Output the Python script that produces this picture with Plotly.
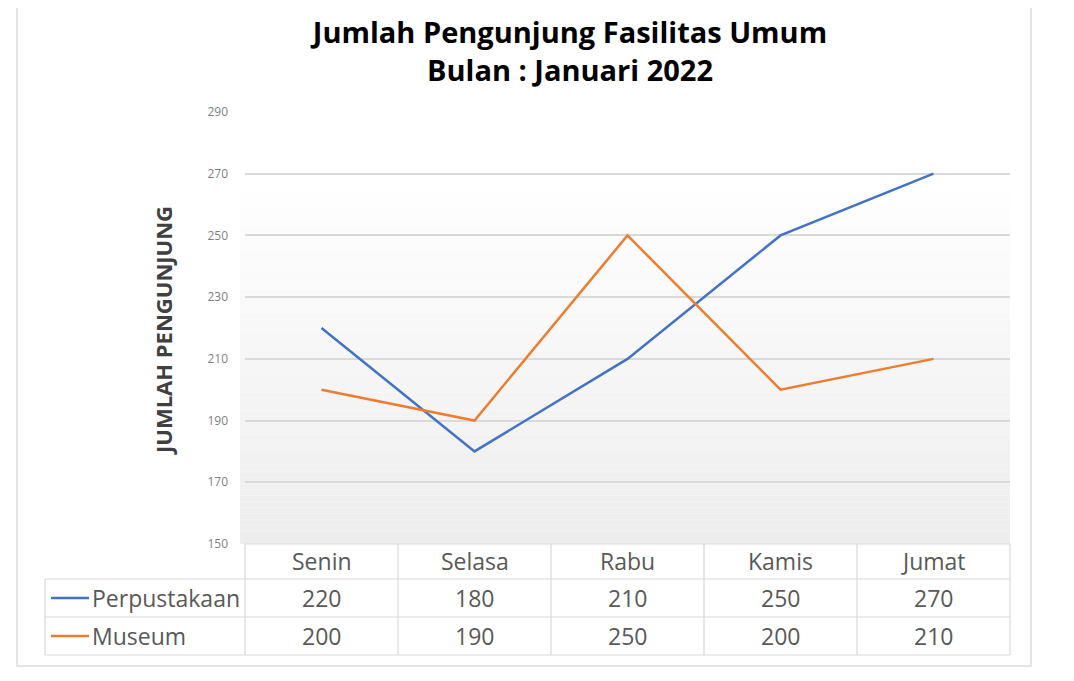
import plotly.graph_objects as go

categories = ["Senin", "Selasa", "Rabu", "Kamis", "Jumat"]
perpustakaan = [220, 180, 210, 250, 270]
museum = [200, 190, 250, 200, 210]
series_names = ["Perpustakaan", "Museum"]
y_ticks = [150, 170, 190, 210, 230, 250, 270, 290]

BLUE = "#4472C4"
ORANGE = "#ED7D31"
FONT = "Open Sans, sans-serif"

OFF = 8  # page body margin
W, H = 1074 - 2 * OFF, 681 - 2 * OFF
L, R, T, B = 245 - OFF, 1010 - OFF, 112 - OFF, 544 - OFF


def px(p):
    return (p - OFF - L) / (R - L)


def py(p):
    return (B - (p - OFF)) / (B - T)


fig = go.Figure()
fig.add_trace(go.Scatter(x=categories, y=perpustakaan, mode="lines", name=series_names[0],
                         line=dict(color=BLUE, width=2.5)))
fig.add_trace(go.Scatter(x=categories, y=museum, mode="lines", name=series_names[1],
                         line=dict(color=ORANGE, width=2.5)))

shapes = []
# background gradient in plot area
n = 60
g0, g1 = 180, 544
for i in range(n):
    y0 = g0 + (g1 - g0) * i / n
    y1 = g0 + (g1 - g0) * (i + 1) / n
    t = (i + 0.5) / n
    c = int(round(255 - (255 - 237) * t))
    shapes.append(dict(type="rect", xref="paper", yref="paper", x0=px(240), x1=px(1010),
                       y0=py(y1), y1=py(y0), fillcolor=f"rgb({c},{c},{c})",
                       line=dict(width=0), layer="below"))

# outer frame
shapes.append(dict(type="rect", xref="paper", yref="paper", x0=px(17), x1=px(1031),
                   y0=py(666), y1=py(-5), line=dict(color="#dcdcdc", width=1.5),
                   fillcolor="rgba(0,0,0,0)", layer="below"))

# data table lines
tcol = "#d9d9d9"
row_y = [544, 579, 617, 655]
col_x = [245 + 153 * i for i in range(6)]
shapes.append(dict(type="line", xref="paper", yref="paper", x0=px(245), x1=px(1010),
                   y0=py(544), y1=py(544), line=dict(color=tcol, width=1.2)))
for yy in row_y[1:]:
    shapes.append(dict(type="line", xref="paper", yref="paper", x0=px(45), x1=px(1010),
                       y0=py(yy), y1=py(yy), line=dict(color=tcol, width=1.2)))
for xx in col_x:
    shapes.append(dict(type="line", xref="paper", yref="paper", x0=px(xx), x1=px(xx),
                       y0=py(544), y1=py(655), line=dict(color=tcol, width=1.2)))
shapes.append(dict(type="line", xref="paper", yref="paper", x0=px(45), x1=px(45),
                   y0=py(579), y1=py(655), line=dict(color=tcol, width=1.2)))

annotations = []
txt_col = "#595959"
for i, c in enumerate(categories):
    annotations.append(dict(text=c, xref="x", yref="paper", x=c, y=py(561), showarrow=False,
                            font=dict(family=FONT, size=23, color=txt_col),
                            xanchor="center", yanchor="middle"))
for r, (name, vals, col) in enumerate([(series_names[0], perpustakaan, BLUE),
                                       (series_names[1], museum, ORANGE)]):
    yc = (row_y[r + 1] + row_y[r + 2]) / 2
    shapes.append(dict(type="line", xref="paper", yref="paper", x0=px(51), x1=px(89),
                       y0=py(yc), y1=py(yc), line=dict(color=col, width=2.5)))
    annotations.append(dict(text=name, xref="paper", yref="paper", x=px(90), y=py(yc),
                            showarrow=False, xanchor="left", yanchor="middle",
                            font=dict(family=FONT, size=23, color=txt_col)))
    for c, v in zip(categories, vals):
        annotations.append(dict(text=str(v), xref="x", yref="paper", x=c, y=py(yc),
                                showarrow=False, xanchor="center", yanchor="middle",
                                font=dict(family=FONT, size=23, color=txt_col)))

annotations.append(dict(text="<b>JUMLAH PENGUNJUNG</b>", xref="paper", yref="paper",
                        x=px(163), y=py(331), textangle=-90, showarrow=False,
                        xanchor="center", yanchor="middle",
                        font=dict(family=FONT, size=22, color="#404040")))

fig.update_layout(
    width=W, height=H,
    margin=dict(l=L, r=W - R, t=T, b=H - B, pad=0),
    paper_bgcolor="white", plot_bgcolor="rgba(0,0,0,0)",
    showlegend=False,
    title=dict(text="<b>Jumlah Pengunjung Fasilitas Umum<br>Bulan : Januari 2022</b>",
               xref="container", yref="container",
               x=(570 - OFF) / W, xanchor="center", y=1 - (43 - OFF) / H, yanchor="middle",
               font=dict(family=FONT, size=29, color="black")),
    xaxis=dict(type="category", range=[-0.5, 4.5], showticklabels=False, showgrid=False,
               zeroline=False, showline=False, ticks=""),
    yaxis=dict(range=[150, 290], tickvals=y_ticks, showgrid=True, gridcolor="#d9d9d9",
               gridwidth=1.5, zeroline=False, showline=False, ticks="",
               ticklabelstandoff=16,
               tickfont=dict(family=FONT, size=12, color="#7f7f7f")),
    shapes=shapes, annotations=annotations,
)

fig.write_html("out.html")
